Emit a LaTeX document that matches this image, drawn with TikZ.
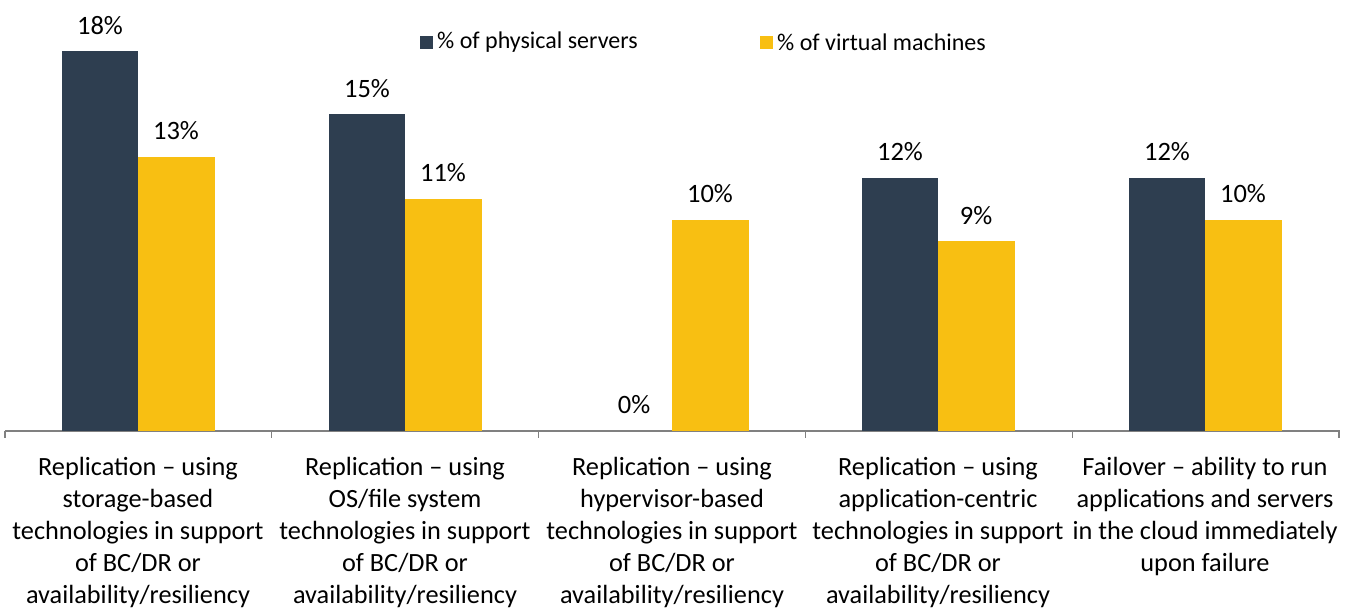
\documentclass[tikz,border=0pt]{standalone}
\usepackage{fontspec}
\setmainfont{Carlito}
\definecolor{darkbar}{RGB}{46,62,80}
\definecolor{yelbar}{RGB}{248,191,18}
\definecolor{axisgray}{RGB}{128,128,128}
\tikzset{
  vallabel/.style={font=\fontsize{26.5}{30}\selectfont,anchor=base,inner sep=0pt},
  catlabel/.style={font=\fontsize{26.3}{32}\selectfont,align=center,anchor=north,inner sep=0pt},
  legtext/.style={font=\fontsize{24}{28}\selectfont,anchor=west,inner sep=0pt},
}
\begin{document}
\begin{tikzpicture}[x=1pt,y=-1pt]
\useasboundingbox (0,0) rectangle (1353,609);
% axis
\draw[axisgray,line width=1.2pt] (5,431) -- (1340,431);
\foreach \t in {5,271.8,538.6,805.4,1072.2,1339}
  \draw[axisgray,line width=1.2pt] (\t,431) -- (\t,438);
% bars: per % = 21.1 px
\foreach \c/\p/\v/\i in {138/18/13/1,405/15/11/2,672/0/10/3,938/12/9/4,1205/12/10/5}{
  \pgfmathsetmacro{\hp}{431-21.1*\p}
  \pgfmathsetmacro{\hv}{431-21.1*\v}
  \ifnum\p>0
    \fill[darkbar] (\c-76.5,\hp) rectangle (\c,431);
  \fi
  \fill[yelbar] (\c,\hv) rectangle (\c+76.5,431);
  \node[vallabel] (p\i) at (\c-38,\hp-17) {\p\%};
  \node[vallabel] (v\i) at (\c+38,\hv-17) {\v\%};
}
% legend
\fill[darkbar] (420,36) rectangle (433,49);
\node[legtext] (l1) at (437,42.5) {\% of physical servers};
\fill[yelbar] (760,36) rectangle (773,49);
\node[legtext] (l2) at (777,42.5) {\% of virtual machines};
% category labels
\node[catlabel] (c1) at (138,457) {Replication -- using\\storage-based\\technologies in support\\of BC/DR or\\availability/resiliency};
\node[catlabel] (c2) at (405,457) {Replication -- using\\OS/file system\\technologies in support\\of BC/DR or\\availability/resiliency};
\node[catlabel] (c3) at (672,457) {Replication -- using\\hypervisor-based\\technologies in support\\of BC/DR or\\availability/resiliency};
\node[catlabel] (c4) at (938,457) {Replication -- using\\application-centric\\technologies in support\\of BC/DR or\\availability/resiliency};
\node[catlabel] (c5) at (1205,457) {Failover -- ability to run\\applications and servers\\in the cloud immediately\\upon failure};
\end{tikzpicture}
\end{document}
